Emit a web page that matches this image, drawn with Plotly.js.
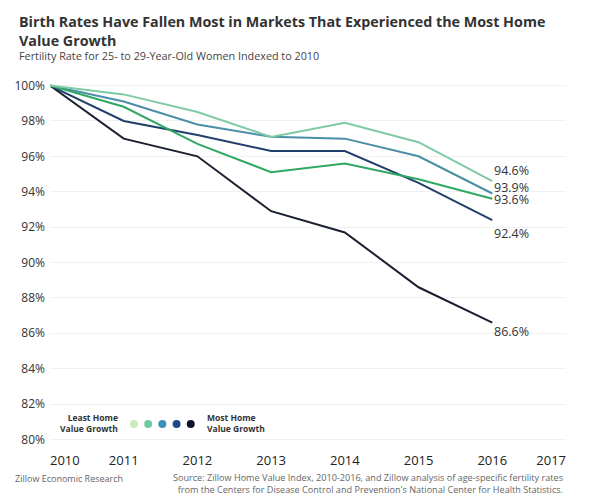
<!DOCTYPE html>
<html><head><meta charset="utf-8">
<script src="https://cdn.plot.ly/plotly-3.0.1.min.js"></script>
<style>html,body{margin:0;padding:0;background:#fff}#chart{width:600px;height:497px}</style>
</head><body><div id="chart"></div>
<script>
const years = [2010, 2011, 2012, 2013, 2014, 2015, 2016];
const seriesNames = ["Least Home Value Growth", "Second Least", "Middle", "Second Most", "Most Home Value Growth"];
const leastGrowth = [100, 99.5, 98.5, 97.1, 97.9, 96.8, 94.6];
const secondLeast = [100, 98.8, 96.7, 95.1, 95.6, 94.7, 93.6];
const middleGrowth = [100, 99.1, 97.8, 97.1, 97.0, 96.0, 93.9];
const secondMost = [100, 98.0, 97.2, 96.3, 96.3, 94.5, 92.4];
const mostGrowth = [100, 97.0, 96.0, 92.9, 91.7, 88.6, 86.6];
const endLabels = ["94.6%", "93.6%", "93.9%", "92.4%", "86.6%"];
const yTicks = [80, 82, 84, 86, 88, 90, 92, 94, 96, 98, 100];
const xTicks = [2010, 2011, 2012, 2013, 2014, 2015, 2016, 2017];
const xTickText = ["\u2007\u2007\u2007\u20072010", "2011", "2012", "2013", "2014", "2015", "2016", "2017\u2007\u2007\u2007\u2007"];

const series = [leastGrowth, secondLeast, middleGrowth, secondMost, mostGrowth];
const lineColors = ["#7fcaa3", "#2fa862", "#4a8ea8", "#213f6c", "#1b2030"];
const dotColors = ["#c9eac0", "#6cc9a4", "#3a8fb7", "#1f4a8a", "#0b1530"];
const labelShift = [11, -1, 6, -13, -9];

const traces = series.map((s, i) => ({
  x: years, y: s, type: "scatter", mode: "lines", name: seriesNames[i],
  line: {color: lineColors[i], width: 2}, hoverinfo: "skip", showlegend: false, cliponaxis: false
}));
traces.reverse();

const FONT = "Open Sans, sans-serif";
const annotations = series.map((s, i) => ({
  x: years[years.length - 1], y: s[s.length - 1], xref: "x", yref: "y",
  text: endLabels[i], showarrow: false, xanchor: "left", xshift: 0, yshift: labelShift[i],
  font: {family: FONT, size: 12.5, color: "#333"}
}));

annotations.push(
  {xref: "paper", yref: "paper", x: -0.064, y: (443 - 10) / 361, xanchor: "left", yanchor: "top", align: "left", showarrow: false,
   text: "<b>Birth Rates Have Fallen Most in Markets That Experienced the Most Home<br>Value Growth</b>",
   font: {family: FONT, size: 14.3, color: "#333"}},
  {xref: "paper", yref: "paper", x: -0.064, y: (443 - 46) / 361, xanchor: "left", yanchor: "top", align: "left", showarrow: false,
   text: "Fertility Rate for 25- to 29-Year-Old Women Indexed to 2010",
   font: {family: FONT, size: 10.8, color: "#444"}},
  {xref: "paper", yref: "paper", x: 0.135, y: 0.056, xanchor: "right", yanchor: "middle", align: "right", showarrow: false,
   text: "<b>Least Home<br>Value Growth</b>", font: {family: FONT, size: 8.5, color: "#333"}},
  {xref: "paper", yref: "paper", x: 0.30, y: 0.056, xanchor: "left", yanchor: "middle", align: "left", showarrow: false,
   text: "<b>Most Home<br>Value Growth</b>", font: {family: FONT, size: 8.5, color: "#333"}},
  {xref: "paper", yref: "paper", x: -0.072, y: (443 - 470) / 361, xanchor: "left", yanchor: "top", align: "left", showarrow: false,
   text: "Zillow Economic Research", font: {family: FONT, size: 9, color: "#666"}},
  {xref: "paper", yref: "paper", x: 0.616, y: (443 - 469) / 361, xanchor: "center", yanchor: "top", align: "right", showarrow: false,
   text: "Source: Zillow Home Value Index, 2010-2016, and Zillow analysis of age-specific fertility rates<br>from the Centers for Disease Control and Prevention's National Center for Health Statistics.",
   font: {family: FONT, size: 9.1, color: "#666"}}
);

const shapes = dotColors.map((c, i) => ({
  type: "circle", xref: "paper", yref: "paper",
  x0: 0.155 + i * 0.0275, x1: 0.155 + i * 0.0275 + 0.0155,
  y0: 0.0415, y1: 0.0635, fillcolor: c, line: {width: 0}
}));

const layout = {
  width: 600, height: 497,
  margin: {l: 50, r: 34, t: 82, b: 54},
  paper_bgcolor: "#fff", plot_bgcolor: "#fff",
  xaxis: {range: [2010, 2017], tickvals: xTicks, ticktext: xTickText, showgrid: false, zeroline: false,
    showline: false, ticks: "", ticklabelstandoff: 8, tickfont: {family: FONT, size: 13, color: "#222"}},
  yaxis: {range: [79.8, 100.2], tickvals: yTicks, ticktext: yTicks.map(v => v + "%"), showgrid: true,
    gridcolor: "#f0f0f0", gridwidth: 1, zeroline: false, showline: false, ticks: "", ticklabelstandoff: 4,
    tickfont: {family: FONT, size: 12, color: "#333"}},
  annotations: annotations, shapes: shapes, showlegend: false
};
Plotly.newPlot("chart", traces, layout, {displayModeBar: false, staticPlot: true});
</script></body></html>
